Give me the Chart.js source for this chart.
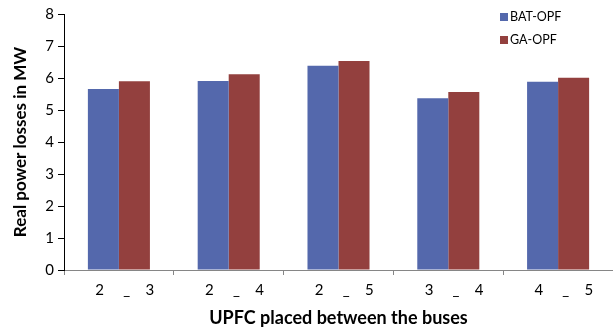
<!DOCTYPE html>
<html>
<head>
<meta charset="utf-8">
<script src="https://cdn.jsdelivr.net/npm/chart.js@4.4.1/dist/chart.umd.min.js"></script>
<style>
  html, body { margin: 0; padding: 0; background: #fff; }
  #wrap { width: 613px; height: 333px; }
</style>
</head>
<body>
<div id="wrap"><canvas id="lossChart"></canvas></div>
<script>
const buses = ["   2     _    3", "   2     _    4", "   2     _    5", "   3     _    4", "   4     _    5"];
const batOpf = [5.66, 5.91, 6.38, 5.37, 5.88];
const gaOpf = [5.90, 6.12, 6.53, 5.56, 6.01];

const FONT = "Lato, 'Liberation Sans', sans-serif";

// legend drawn in the top right corner, inside the plot
const cornerLegend = {
  id: "cornerLegend",
  afterDraw(chart) {
    const c = chart.ctx;
    c.save();
    c.font = "12.5px " + FONT;
    c.textBaseline = "middle";
    chart.data.datasets.forEach((ds, i) => {
      const y = 17 + i * 23;
      c.fillStyle = ds.backgroundColor;
      c.fillRect(500, y - 4, 8, 8);
      c.fillStyle = "#000";
      c.fillText(ds.label, 510, y);
    });
    c.restore();
  },
};

const ctx = document.getElementById("lossChart").getContext("2d");
const lossChart = new Chart(ctx, {
  type: "bar",
  data: {
    labels: buses,
    datasets: [
      { label: "BAT-OPF", data: batOpf, backgroundColor: "#5468ac" },
      { label: "GA-OPF", data: gaOpf, backgroundColor: "#93403e" },
    ],
  },
  options: {
    responsive: true,
    maintainAspectRatio: false,
    animation: false,
    layout: { padding: { top: 14, right: 0, left: 0, bottom: 0 } },
    datasets: { bar: { categoryPercentage: 0.565, barPercentage: 1 } },
    plugins: {
      legend: { display: false },
      tooltip: { enabled: false },
    },
    scales: {
      x: {
        grid: {
          drawOnChartArea: false,
          drawTicks: true,
          tickLength: 5,
          color: "#868686",
        },
        border: { color: "#868686", width: 1 },
        ticks: {
          color: "#000",
          padding: 6,
          font: { family: FONT, size: 15 },
        },
        title: {
          display: true,
          text: "UPFC placed between the buses",
          color: "#000",
          font: { family: FONT, size: 18, weight: "bold" },
          padding: { top: 6 },
        },
        afterFit(scale) {
          scale.height = 63;
        },
      },
      y: {
        min: 0,
        max: 8,
        grid: {
          drawOnChartArea: false,
          drawTicks: true,
          tickLength: 6,
          color: "#000",
        },
        border: { color: "#000", width: 1 },
        ticks: {
          stepSize: 1,
          color: "#000",
          padding: 4,
          font: { family: FONT, size: 15 },
        },
        title: {
          display: true,
          text: "Real power losses in MW",
          color: "#000",
          font: { family: FONT, size: 17, weight: "bold" },
          padding: { top: 10, bottom: 0 },
        },
        afterFit(scale) {
          scale.width = 64;
        },
      },
    },
  },
  plugins: [cornerLegend],
});
</script>
</body>
</html>
